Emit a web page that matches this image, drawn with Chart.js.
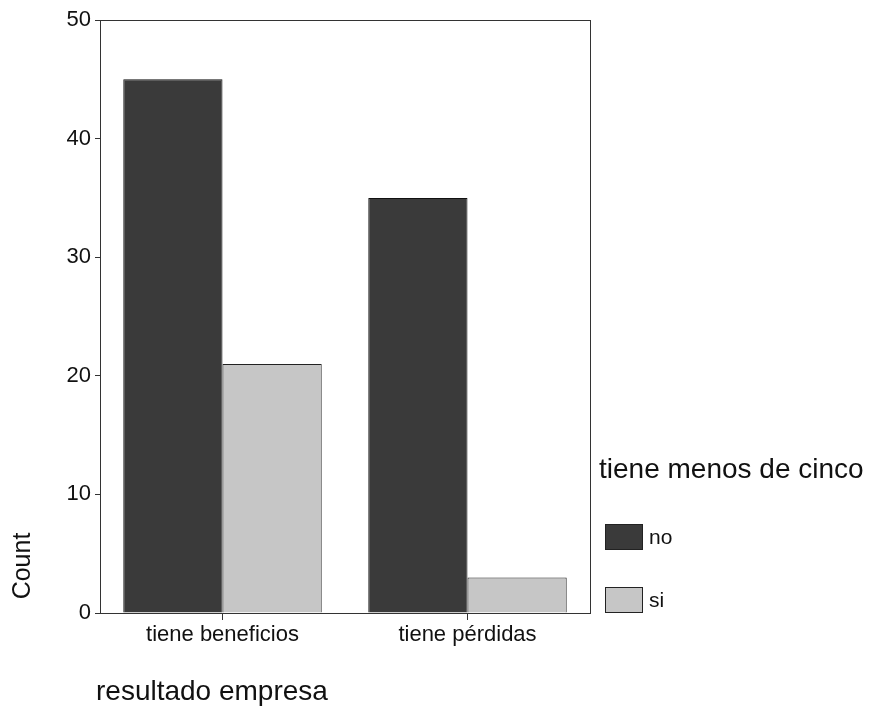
<!DOCTYPE html>
<html>
<head>
<meta charset="utf-8">
<script src="https://cdn.jsdelivr.net/npm/chart.js@4/dist/chart.umd.min.js"></script>
<style>
  html, body { margin: 0; padding: 0; background: #fff; }
  #wrap { width: 874px; height: 720px; position: relative; }
</style>
</head>
<body>
<div id="wrap"><canvas id="chart" width="874" height="720"></canvas></div>
<script>
// data
const categories = ['tiene beneficios', 'tiene pérdidas'];
const noValues = [45, 35];
const siValues = [21, 3];
const yTicks = [0, 10, 20, 30, 40, 50];

const FONT = '"Liberation Sans", Arial, sans-serif';

// frame around the plot + axis titles + legend on the right
const extras = {
  id: 'extras',
  afterDraw(chart) {
    const { ctx, chartArea: a } = chart;
    ctx.save();
    ctx.strokeStyle = '#333';
    ctx.lineWidth = 1;
    ctx.strokeRect(a.left + 0.5, a.top + 0.5, a.right - a.left, a.bottom - a.top);

    ctx.fillStyle = '#111';
    ctx.textBaseline = 'middle';
    ctx.textAlign = 'left';
    ctx.font = '28px ' + FONT;
    ctx.fillText('resultado empresa', 96, 692);

    ctx.save();
    ctx.translate(23, 566);
    ctx.rotate(-Math.PI / 2);
    ctx.textAlign = 'center';
    ctx.font = '25px ' + FONT;
    ctx.fillText('Count', 0, 0);
    ctx.restore();

    // legend
    ctx.font = '28px ' + FONT;
    ctx.fillText('tiene menos de cinco', 599, 470);
    ctx.font = '21px ' + FONT;
    const rows = [524, 587];
    chart.data.datasets.forEach((ds, i) => {
      const y = rows[i];
      ctx.fillStyle = ds.backgroundColor;
      ctx.fillRect(605, y, 38, 26);
      ctx.strokeStyle = '#222';
      ctx.strokeRect(605.5, y + 0.5, 37, 25);
      ctx.fillStyle = '#111';
      ctx.fillText(ds.label, 649, y + 14);
    });
    ctx.restore();
  }
};

new Chart(document.getElementById('chart'), {
  type: 'bar',
  data: {
    labels: categories,
    datasets: [
      {
        label: 'no',
        data: noValues,
        backgroundColor: '#3a3a3a',
        borderColor: '#111',
        borderWidth: 1,
        categoryPercentage: 0.81,
        barPercentage: 1.0
      },
      {
        label: 'si',
        data: siValues,
        backgroundColor: '#c6c6c6',
        borderColor: '#222',
        borderWidth: 1,
        categoryPercentage: 0.81,
        barPercentage: 1.0
      }
    ]
  },
  options: {
    responsive: false,
    animation: false,
    layout: { padding: { left: 0, top: 20, right: 284, bottom: 67 } },
    plugins: {
      legend: { display: false },
      tooltip: { enabled: false }
    },
    scales: {
      x: {
        grid: { display: true, offset: false, drawOnChartArea: false, tickLength: 7, color: '#333' },
        border: { color: '#333' },
        ticks: { color: '#111', font: { family: FONT, size: 22 }, padding: 2 },
        afterFit(scale) { scale.height = 40; }
      },
      y: {
        min: 0,
        max: 50,
        afterBuildTicks(scale) { scale.ticks = yTicks.map(v => ({ value: v })); },
        grid: { display: true, drawOnChartArea: false, tickLength: 5, color: '#333' },
        border: { color: '#333' },
        ticks: { color: '#111', font: { family: FONT, size: 22 }, padding: 4 },
        afterFit(scale) { scale.width = 100; }
      }
    }
  },
  plugins: [extras]
});
</script>
</body>
</html>
